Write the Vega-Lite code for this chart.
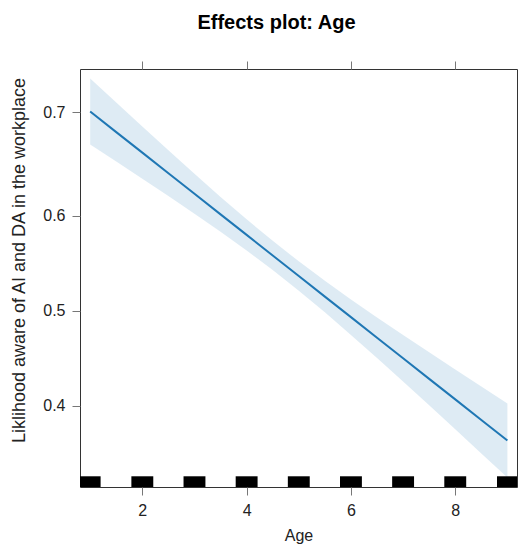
{
  "$schema": "https://vega.github.io/schema/vega-lite/v6.json",
  "width": 437,
  "height": 418,
  "autosize": {"type": "none"},
  "padding": {"left": 80, "top": 69, "right": 1, "bottom": 61},
  "background": "white",
  "config": {
    "font": "Liberation Sans",
    "view": {"stroke": "#333333", "strokeWidth": 1},
    "axis": {
      "grid": false,
      "domain": false,
      "tickColor": "#777777",
      "tickSize": 8,
      "labelColor": "#222222",
      "labelFontSize": 16,
      "titleFontSize": 16,
      "titleFontWeight": "normal",
      "titleColor": "#222222",
      "labelFont": "Liberation Sans",
      "titleFont": "Liberation Sans"
    }
  },
  "title": {
    "text": "Effects plot: Age",
    "fontSize": 20,
    "fontWeight": "bold",
    "anchor": "middle",
    "dx": -22,
    "dy": -24,
    "color": "#000000",
    "font": "Liberation Sans"
  },
  "datasets": {
    "effect": [
      {"age": 1, "fit": 0.8502, "lower": 0.7094, "upper": 0.9910},
      {"age": 1.5, "fit": 0.7625, "lower": 0.6367, "upper": 0.8883},
      {"age": 2, "fit": 0.6748, "lower": 0.5635, "upper": 0.7861},
      {"age": 2.5, "fit": 0.5871, "lower": 0.4895, "upper": 0.6847},
      {"age": 3, "fit": 0.4994, "lower": 0.4143, "upper": 0.5845},
      {"age": 3.5, "fit": 0.4117, "lower": 0.3372, "upper": 0.4862},
      {"age": 4, "fit": 0.3240, "lower": 0.2575, "upper": 0.3905},
      {"age": 4.5, "fit": 0.2363, "lower": 0.1740, "upper": 0.2986},
      {"age": 5, "fit": 0.1486, "lower": 0.0860, "upper": 0.2112},
      {"age": 5.5, "fit": 0.0609, "lower": -0.0064, "upper": 0.1282},
      {"age": 6, "fit": -0.0268, "lower": -0.1024, "upper": 0.0488},
      {"age": 6.5, "fit": -0.1145, "lower": -0.2011, "upper": -0.0279},
      {"age": 7, "fit": -0.2022, "lower": -0.3014, "upper": -0.1030},
      {"age": 7.5, "fit": -0.2899, "lower": -0.4029, "upper": -0.1769},
      {"age": 8, "fit": -0.3776, "lower": -0.5052, "upper": -0.2500},
      {"age": 8.5, "fit": -0.4653, "lower": -0.6080, "upper": -0.3226},
      {"age": 9, "fit": -0.5530, "lower": -0.7112, "upper": -0.3948}
    ],
    "rug": [
      {"lo": 0.79, "hi": 1.2},
      {"lo": 1.79, "hi": 2.21},
      {"lo": 2.79, "hi": 3.21},
      {"lo": 3.79, "hi": 4.21},
      {"lo": 4.79, "hi": 5.21},
      {"lo": 5.79, "hi": 6.21},
      {"lo": 6.79, "hi": 7.21},
      {"lo": 7.79, "hi": 8.21},
      {"lo": 8.8, "hi": 9.21}
    ]
  },
  "layer": [
    {
      "data": {"name": "effect"},
      "mark": {"type": "area", "color": "#1f77b4", "opacity": 0.15},
      "encoding": {
        "x": {
          "field": "age",
          "type": "quantitative",
          "scale": {"domain": [0.805, 9.184], "nice": false, "zero": false},
          "axis": {"orient": "bottom", "values": [2, 4, 6, 8], "title": "Age", "labelPadding": 7, "titlePadding": 9}
        },
        "y": {
          "field": "lower",
          "type": "quantitative",
          "scale": {"domain": [-0.7512, 1.0316], "nice": false, "zero": false},
          "axis": {
            "values": [-0.4055, 0, 0.4055, 0.8473],
            "labelExpr": "format(1/(1+exp(-datum.value)), '.1f')",
            "title": "Liklihood aware of AI and DA in the workplace",
            "titleFontSize": 18,
            "labelPadding": 7,
            "titleX": -56,
            "titleY": 191,
            "titleAlign": "center",
            "titleBaseline": "alphabetic"
          }
        },
        "y2": {"field": "upper"}
      }
    },
    {
      "data": {"name": "effect"},
      "mark": {"type": "line", "color": "#1f77b4", "strokeWidth": 2},
      "encoding": {
        "x": {
          "field": "age",
          "type": "quantitative",
          "axis": {"orient": "top", "values": [2, 4, 6, 8], "labels": false, "title": null}
        },
        "y": {"field": "fit", "type": "quantitative"}
      }
    },
    {
      "data": {"name": "rug"},
      "mark": {"type": "rect", "color": "#000000", "clip": true},
      "encoding": {
        "x": {"field": "lo", "type": "quantitative", "axis": null},
        "x2": {"field": "hi"},
        "y": {"datum": -0.7055},
        "y2": {"datum": -0.7512}
      }
    }
  ],
  "resolve": {"axis": {"x": "independent"}}
}
